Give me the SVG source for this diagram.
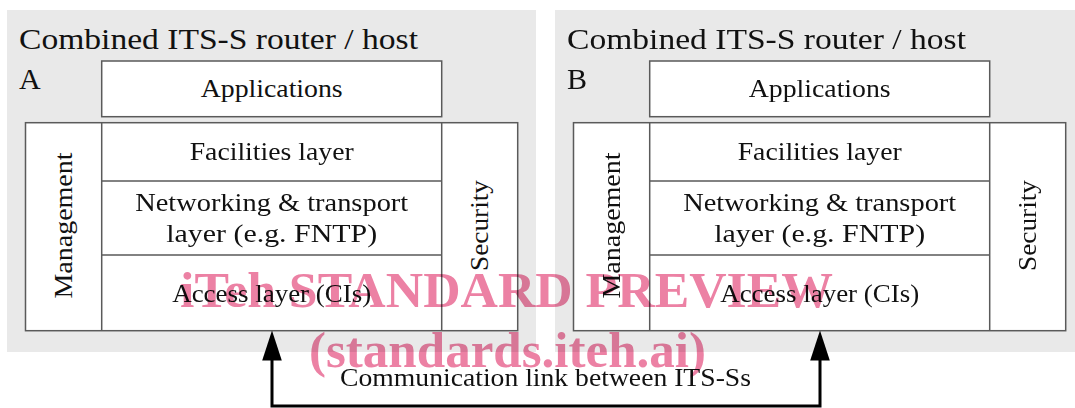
<svg xmlns="http://www.w3.org/2000/svg" width="1075" height="408" viewBox="0 0 1075 408">
  <style>
    .panel { fill: #e9e9e9; }
    .box { fill: #ffffff; stroke: #5a5a5a; stroke-width: 1.5; }
    .div { stroke: #5a5a5a; stroke-width: 1.5; fill: none; }
    .t { font-family: "Liberation Serif", "Times New Roman", serif; fill: #111; }
    .title { font-size: 30px; }
    .lbl { font-size: 25px; text-anchor: middle; }
    .link { fill: none; stroke: #000; stroke-width: 3; }
    .wm { font-family: "Liberation Serif", "Times New Roman", serif; font-weight: bold; font-size: 51px; fill: #e44c7e; opacity: 0.7; }
  </style>
  <defs>
    <marker id="arrow" markerUnits="userSpaceOnUse" markerWidth="30" markerHeight="20" viewBox="0 0 29 19" refX="15" refY="9.5" orient="auto-start-reverse">
      <path d="M0,0 L29,9.5 L0,19 Z" fill="#000"/>
    </marker>
  </defs>

  <!-- Station A -->
  <g id="station-a">
    <rect class="panel" x="7" y="10" width="529" height="342"/>
    <text class="t title" x="19" y="49" textLength="399" lengthAdjust="spacingAndGlyphs">Combined ITS-S router / host</text>
    <text class="t title" x="19" y="89">A</text>
    <g id="a-applications">
      <rect class="box" x="101.7" y="61" width="340" height="55.7"/>
      <text class="t lbl" x="271.7" y="97.3" textLength="142" lengthAdjust="spacingAndGlyphs">Applications</text>
    </g>
    <g id="a-stack">
      <rect class="box" x="25.5" y="122.7" width="492.2" height="208"/>
      <path class="div" d="M101.7,122.7 V330.7 M441.7,122.7 V330.7 M101.7,181 H441.7 M101.7,255 H441.7"/>
    </g>
    <g id="a-management">
      <text class="t lbl" x="72" y="225.5" transform="rotate(-90 72 225.5)" textLength="146" lengthAdjust="spacingAndGlyphs">Management</text>
    </g>
    <g id="a-security">
      <text class="t lbl" x="488" y="225.5" transform="rotate(-90 488 225.5)" textLength="91" lengthAdjust="spacingAndGlyphs">Security</text>
    </g>
    <g id="a-facilities">
      <text class="t lbl" x="271.7" y="160" textLength="164" lengthAdjust="spacingAndGlyphs">Facilities layer</text>
    </g>
    <g id="a-networking">
      <text class="t lbl" x="271.7" y="210.5" textLength="273" lengthAdjust="spacingAndGlyphs">Networking &amp; transport</text>
      <text class="t lbl" x="271.7" y="241.5" textLength="211" lengthAdjust="spacingAndGlyphs">layer (e.g. FNTP)</text>
    </g>
    <g id="a-access">
      <text class="t lbl" x="271.7" y="301.5" textLength="199" lengthAdjust="spacingAndGlyphs">Access layer (CIs)</text>
    </g>
  </g>

  <!-- Station B -->
  <g id="station-b">
    <rect class="panel" x="555" y="10" width="520" height="342"/>
    <text class="t title" x="567" y="49" textLength="399" lengthAdjust="spacingAndGlyphs">Combined ITS-S router / host</text>
    <text class="t title" x="567" y="89">B</text>
    <g id="b-applications">
      <rect class="box" x="649.7" y="61" width="340" height="55.7"/>
      <text class="t lbl" x="819.7" y="97.3" textLength="142" lengthAdjust="spacingAndGlyphs">Applications</text>
    </g>
    <g id="b-stack">
      <rect class="box" x="573.5" y="122.7" width="492.2" height="208"/>
      <path class="div" d="M649.7,122.7 V330.7 M989.7,122.7 V330.7 M649.7,181 H989.7 M649.7,255 H989.7"/>
    </g>
    <g id="b-management">
      <text class="t lbl" x="620" y="225.5" transform="rotate(-90 620 225.5)" textLength="146" lengthAdjust="spacingAndGlyphs">Management</text>
    </g>
    <g id="b-security">
      <text class="t lbl" x="1036" y="225.5" transform="rotate(-90 1036 225.5)" textLength="91" lengthAdjust="spacingAndGlyphs">Security</text>
    </g>
    <g id="b-facilities">
      <text class="t lbl" x="819.7" y="160" textLength="164" lengthAdjust="spacingAndGlyphs">Facilities layer</text>
    </g>
    <g id="b-networking">
      <text class="t lbl" x="819.7" y="210.5" textLength="273" lengthAdjust="spacingAndGlyphs">Networking &amp; transport</text>
      <text class="t lbl" x="819.7" y="241.5" textLength="211" lengthAdjust="spacingAndGlyphs">layer (e.g. FNTP)</text>
    </g>
    <g id="b-access">
      <text class="t lbl" x="819.7" y="301.5" textLength="199" lengthAdjust="spacingAndGlyphs">Access layer (CIs)</text>
    </g>
  </g>

  <!-- Link between the two access layers -->
  <g id="connectors">
    <path class="link" d="M272,345 V406 H820 V345" marker-start="url(#arrow)" marker-end="url(#arrow)"/>
    <text class="t lbl" x="545.5" y="385.5" textLength="411" lengthAdjust="spacingAndGlyphs">Communication link between ITS-Ss</text>
  </g>

  <!-- Watermark -->
  <g id="watermark" style="mix-blend-mode: multiply">
    <text class="wm" x="180" y="307" textLength="653" lengthAdjust="spacingAndGlyphs">iTeh STANDARD PREVIEW</text>
    <text class="wm" x="309" y="367" textLength="397" lengthAdjust="spacingAndGlyphs">(standards.iteh.ai)</text>
  </g>
</svg>
